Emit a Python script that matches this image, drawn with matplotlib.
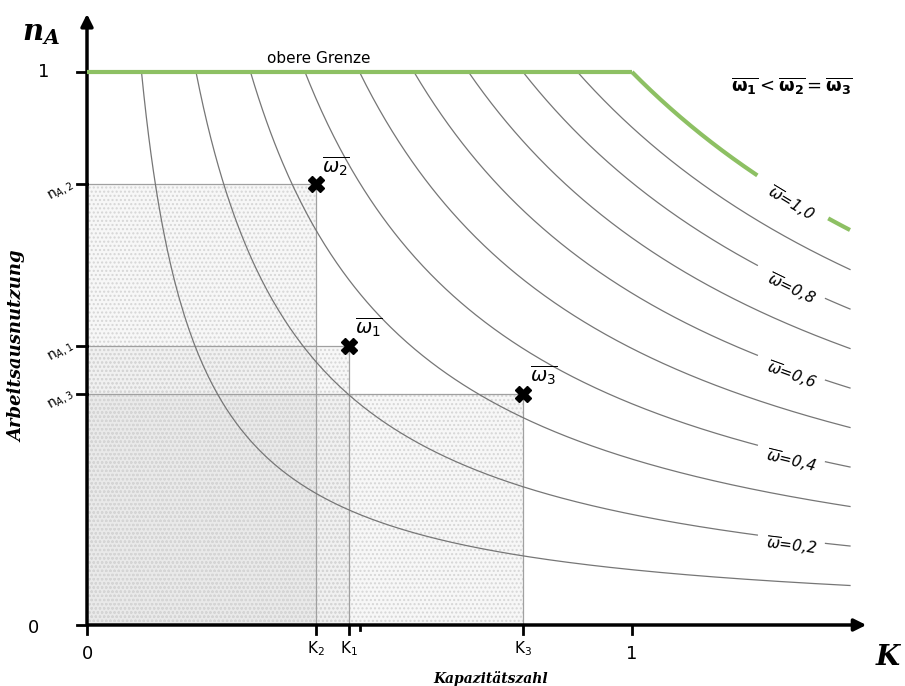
import numpy as np
import matplotlib.pyplot as plt
from matplotlib.patches import Rectangle

# iso-lines of omega = n_A * K
omegas = [0.1, 0.2, 0.3, 0.4, 0.5, 0.6, 0.7, 0.8, 0.9]
labelled = [0.2, 0.4, 0.6, 0.8, 1.0]
label_texts = ['0,2', '0,4', '0,6', '0,8', '1,0']

# operating points
point_names = ['1', '2', '3']
point_K = [0.48, 0.42, 0.80]
point_n = [0.505, 0.797, 0.418]

K_max = 1.4
gap_lo, gap_hi = 1.23, 1.355

# pixel mapping: K=0 -> 87px, K=1 -> 632px; n=0 -> 625px, n=1 -> 72px
W, H = 905, 686
x0, sx = 87, 545
y0, sy = 625, 553

fig = plt.figure(figsize=(W / 100, H / 100), dpi=100)
ax = fig.add_axes([0, 0, 1, 1])
ax.set_xlim(-x0 / sx, (W - x0) / sx)
ax.set_ylim(-(H - y0) / sy, y0 / sy)
ax.axis('off')

grey = '#767676'
green = '#8dc063'

# shaded rectangles
for k, n in zip(point_K, point_n):
    ax.add_patch(Rectangle((0, 0), k, n, facecolor='#808080', alpha=0.06, lw=0, zorder=1))
    ax.add_patch(Rectangle((0, 0), k, n, facecolor='none', edgecolor='#d6d6d6',
                           hatch='....', lw=0, zorder=1))
    ax.plot([0, k], [n, n], c='#a0a0a0', lw=0.9, zorder=2)
    ax.plot([k, k], [0, n], c='#a0a0a0', lw=0.9, zorder=2)

# hyperbolas
for w in omegas:
    if any(abs(w - l) < 1e-9 for l in labelled):
        K = np.linspace(w, gap_lo, 300)
        ax.plot(K, w / K, c=grey, lw=0.9, zorder=3)
        K = np.linspace(gap_hi, K_max, 20)
        ax.plot(K, w / K, c=grey, lw=0.9, zorder=3)
    else:
        K = np.linspace(w, K_max, 300)
        ax.plot(K, w / K, c=grey, lw=0.9, zorder=3)

# upper bound
ax.plot([0, 1], [1, 1], c=green, lw=3, zorder=4, solid_capstyle='butt')
K = np.linspace(1, gap_lo, 200)
ax.plot(K, 1 / K, c=green, lw=3, zorder=4, solid_capstyle='butt')
K = np.linspace(gap_hi + 0.005, K_max, 20)
ax.plot(K, 1 / K, c=green, lw=3, zorder=4, solid_capstyle='butt')

# curve labels
for w, t in zip(labelled, label_texts):
    Kc = 1.292
    ang = np.degrees(np.arctan(-w / Kc**2 * sy / sx))
    ax.text(Kc, w / Kc - 0.012, r'$\overline{\omega}$=' + t, rotation=ang,
            rotation_mode='anchor', ha='center', va='center', fontsize=11,
            style='italic', zorder=5)

# points
for name, k, n in zip(point_names, point_K, point_n):
    ax.plot(k, n, marker='X', ms=11, c='k', mec='k', zorder=6)
    ax.text(k + 0.012, n + 0.012, r'$\overline{\omega_%s}$' % name, fontsize=14,
            ha='left', va='bottom', zorder=6)

# axes with arrows
ax.annotate('', xy=(1.435, 0), xytext=(-0.003, 0),
            arrowprops=dict(arrowstyle='-|>', lw=2.5, color='k', mutation_scale=18))
ax.annotate('', xy=(0, 1.11), xytext=(0, -0.003),
            arrowprops=dict(arrowstyle='-|>', lw=2.5, color='k', mutation_scale=18))

# ticks
for k in [0, 1] + point_K:
    ax.plot([k, k], [0, -0.016], c='k', lw=2)
ax.plot([0.5, 0.5], [0, -0.009], c='k', lw=2)
for n in [0, 1] + point_n:
    ax.plot([0, -0.018], [n, n], c='k', lw=2)

narrow = ['Liberation Sans Narrow', 'DejaVu Sans']
ax.text(0, -0.052, '0', ha='center', va='center', fontsize=13, family=narrow)
ax.text(1, -0.052, '1', ha='center', va='center', fontsize=13, family=narrow)
for name, k in zip(point_names, point_K):
    ax.text(k, -0.026, r'K$_{%s}$' % name, ha='center', va='top', fontsize=11, family=narrow)
ax.text(-0.08, 1, '1', ha='center', va='center', fontsize=13, family=narrow)
ax.text(-0.098, -0.005, '0', ha='center', va='center', fontsize=13, family=narrow)
for name, n in zip(point_names, point_n):
    ax.text(-0.025, n, r'n$_{A,%s}$' % name, ha='right', va='center', fontsize=10,
            rotation=30, rotation_mode='anchor', family=narrow)

serif = ['DejaVu Serif']
ax.text(-0.085, 1.07, r'$\mathbfit{n}_{\mathbfit{A}}$', ha='center', va='center',
        fontsize=21, math_fontfamily='dejavuserif')
ax.text(1.47, -0.058, 'K', ha='center', va='center', fontsize=20, weight='bold',
        style='italic', family=serif)
ax.text(-0.128, 0.505, 'Arbeitsausnutzung', rotation=90, ha='center', va='center',
        fontsize=13, weight='bold', style='italic', family=serif)
ax.text(0.74, -0.097, 'Kapazitätszahl', ha='center', va='center', fontsize=10,
        weight='bold', style='italic', family=serif)

ax.text(0.425, 1.025, 'obere Grenze', ha='center', va='center', fontsize=11)
ax.text(1.405, 0.975,
        r'$\overline{\mathbf{\omega}_\mathbf{1}} < \overline{\mathbf{\omega}_\mathbf{2}}'
        r' = \overline{\mathbf{\omega}_\mathbf{3}}$',
        ha='right', va='center', fontsize=13)

fig.savefig('out.png', dpi=100)
